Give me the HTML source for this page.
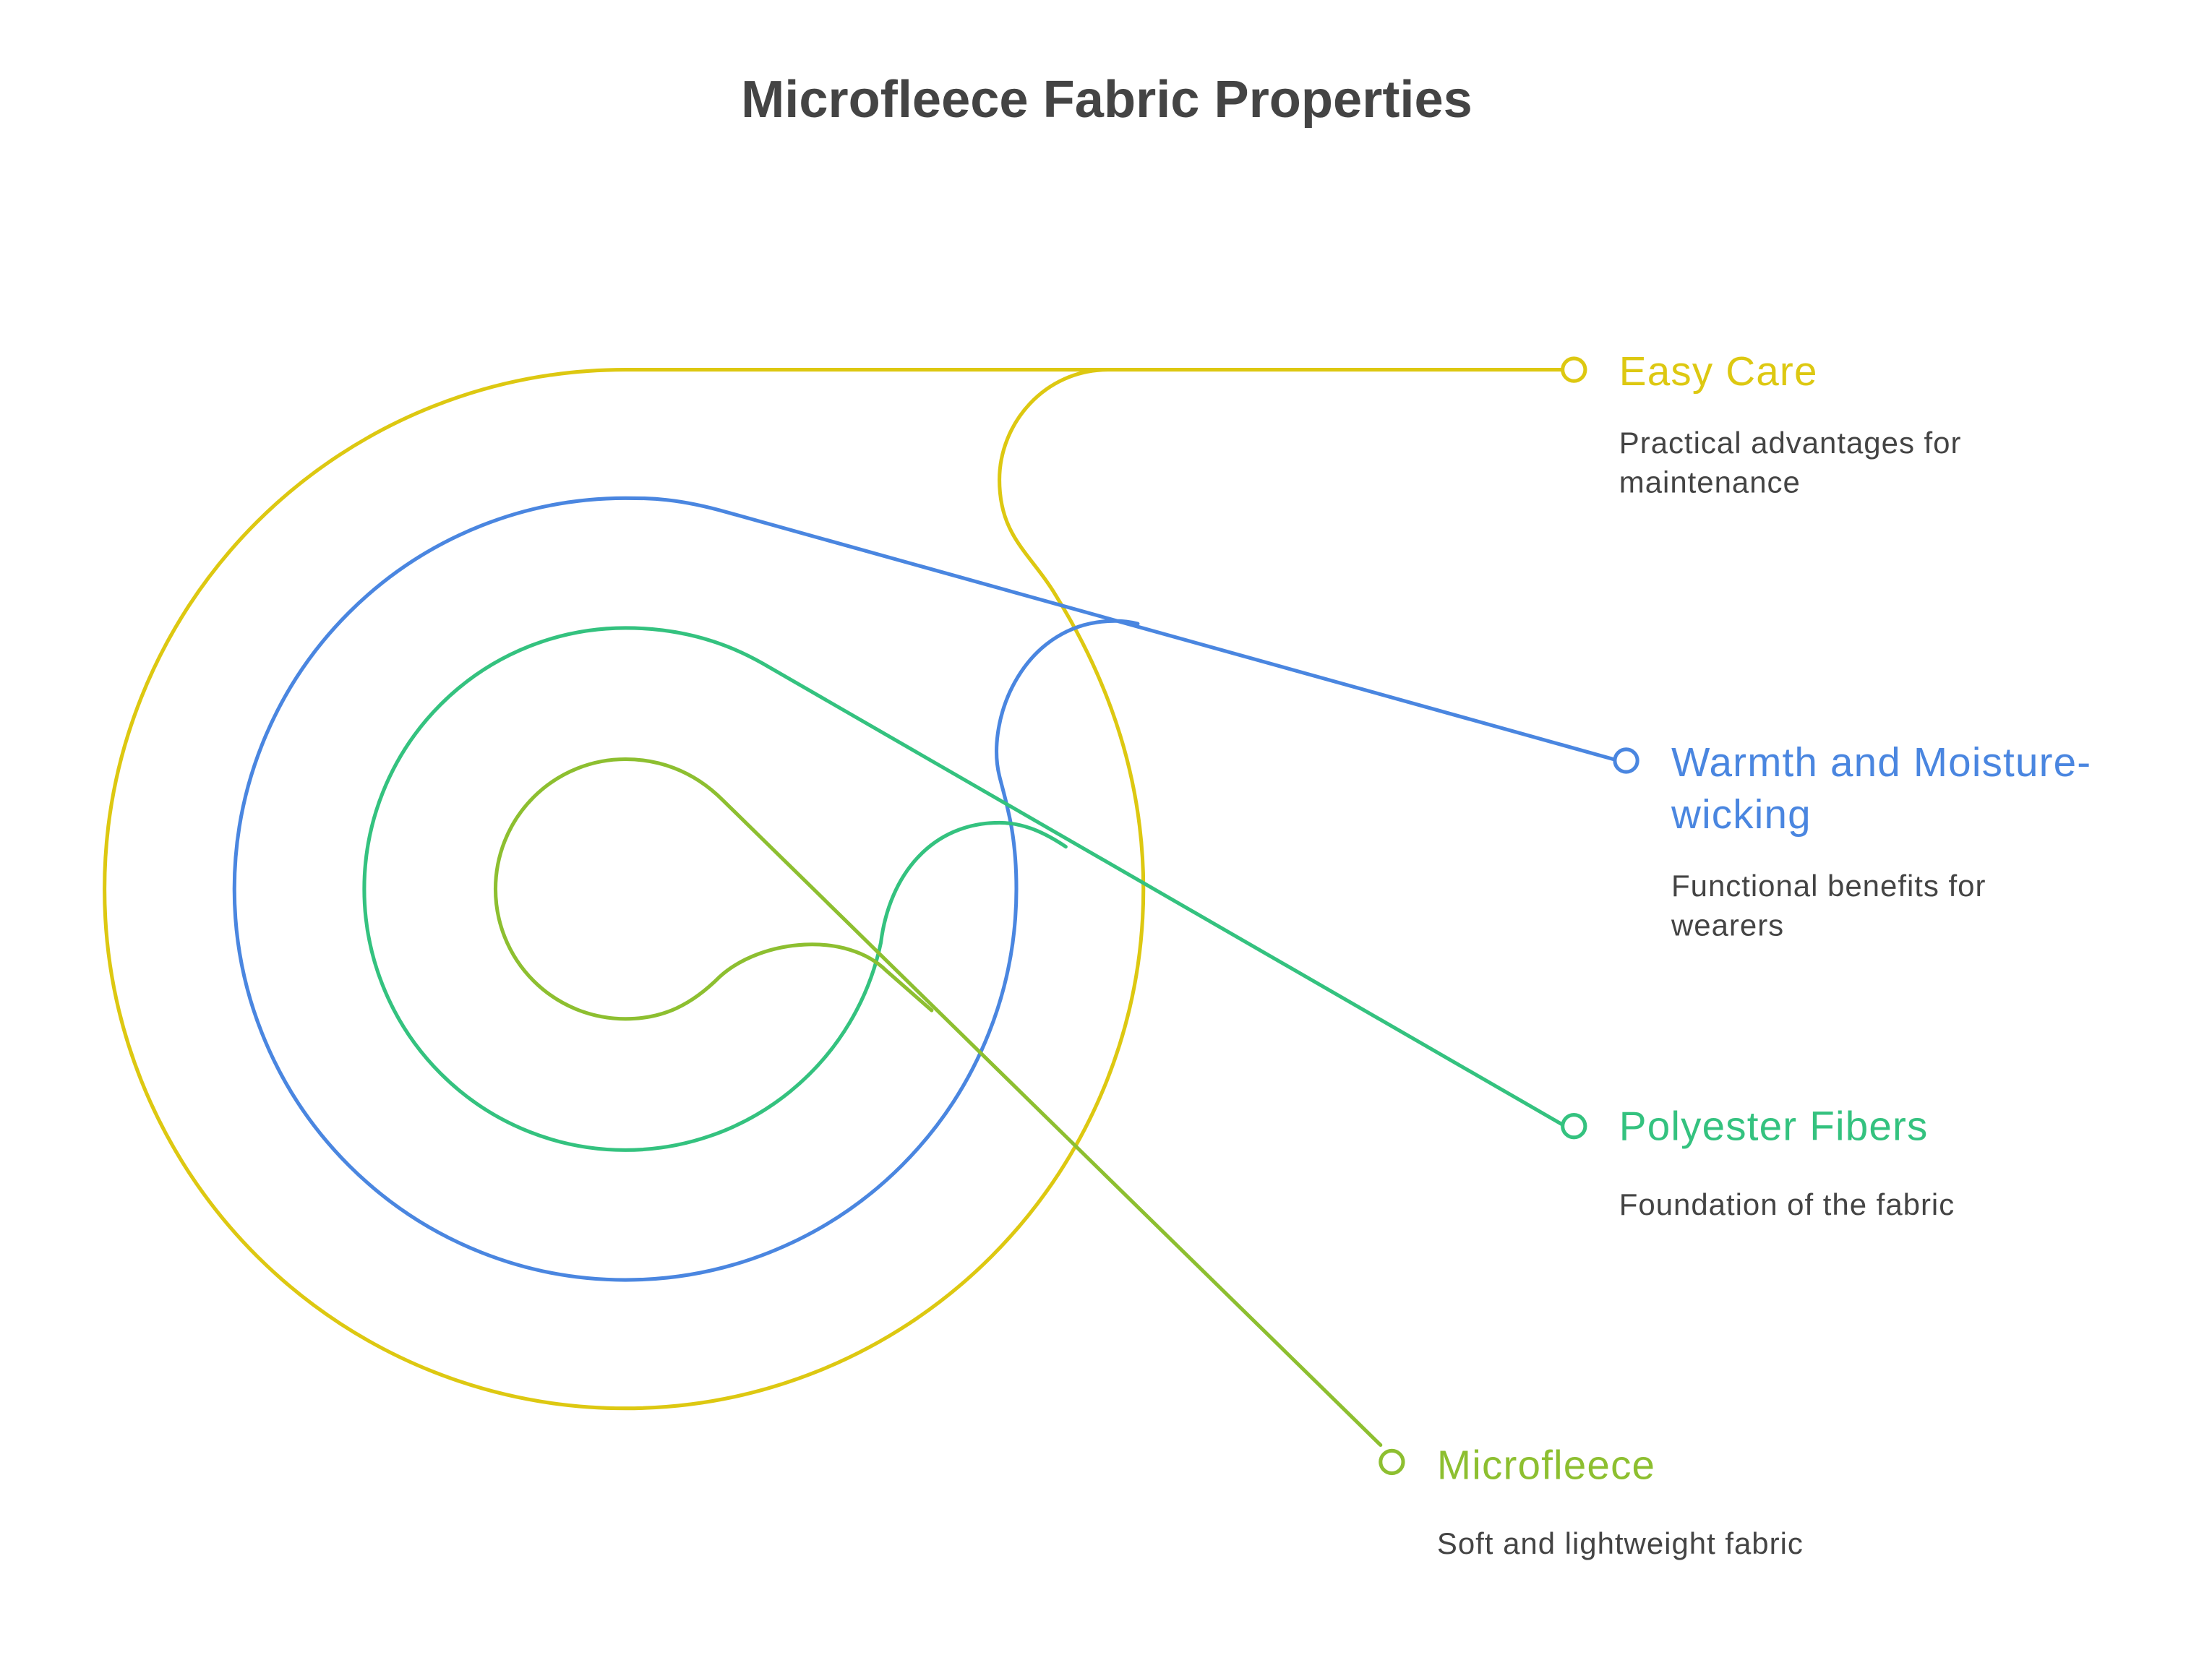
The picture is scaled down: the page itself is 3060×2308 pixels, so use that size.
<!DOCTYPE html>
<html><head><meta charset="utf-8"><style>
html,body{margin:0;padding:0;background:#fff}
svg{display:block}
text{font-family:"Liberation Sans",sans-serif}
</style></head><body>
<svg width="3060" height="2308" viewBox="0 0 1567 1182" xmlns="http://www.w3.org/2000/svg">
<rect width="1567" height="1182" fill="#fff"/>
<text x="784" y="83" text-anchor="middle" font-size="37" font-weight="bold" fill="#444">Microfleece Fabric Properties</text>
<g fill="none" stroke-width="2.6" stroke-linecap="round">
<path stroke="#DDC811" d="M1107,262 L785,262 C740,262 708,300 708,340 C708,380 730,392 748,422 C790,490 810,560 810,630 A367,368 0 0 1 443,998 A369,368 0 0 1 74,630 A369,368 0 0 1 443,262 L785,262"/>
<path stroke="#4A86E0" d="M1143,538 L515,363 C480,353 460,353 443,353 A277,277 0 0 0 166,630 A277,277 0 0 0 443,907 A277,277 0 0 0 720,630 C720,590 713,570 708,550 C698,510 725,440 790,440 C797,440 802,441 806,442"/>
<path stroke="#34C27F" d="M1107,797 L540,470 C505,450 470,445 443,445 A185,185 0 0 0 258,630 A185,185 0 0 0 443,815 A185,185 0 0 0 624,668 C630,620 660,583 708,583 C725,583 740,590 755,600"/>
<path stroke="#8DBF30" d="M978,1024 L512,567 C490,545 465,538 443,538 A92,92 0 0 0 443,722 C470,722 490,712 510,692 C540,665 600,660 628,688 L660,716"/>
<circle cx="1115" cy="262" r="8" stroke="#DDC811" fill="#fff"/>
<circle cx="1152" cy="539" r="8" stroke="#4A86E0" fill="#fff"/>
<circle cx="1115" cy="798" r="8" stroke="#34C27F" fill="#fff"/>
<circle cx="986" cy="1036" r="8" stroke="#8DBF30" fill="#fff"/>
</g>
<g font-size="29" letter-spacing="0.6">
<text x="1147" y="273" fill="#DDC811">Easy Care</text>
<text x="1184" y="550" fill="#4A86E0">Warmth and Moisture-</text>
<text x="1184" y="587" fill="#4A86E0">wicking</text>
<text x="1147" y="808" fill="#34C27F">Polyester Fibers</text>
<text x="1018" y="1048" fill="#8DBF30">Microfleece</text>
</g>
<g font-size="21.5" fill="#444" letter-spacing="0.5">
<text x="1147" y="321">Practical advantages for</text>
<text x="1147" y="349">maintenance</text>
<text x="1184" y="635">Functional benefits for</text>
<text x="1184" y="663">wearers</text>
<text x="1147" y="861">Foundation of the fabric</text>
<text x="1018" y="1101">Soft and lightweight fabric</text>
</g>
</svg>
</body></html>
